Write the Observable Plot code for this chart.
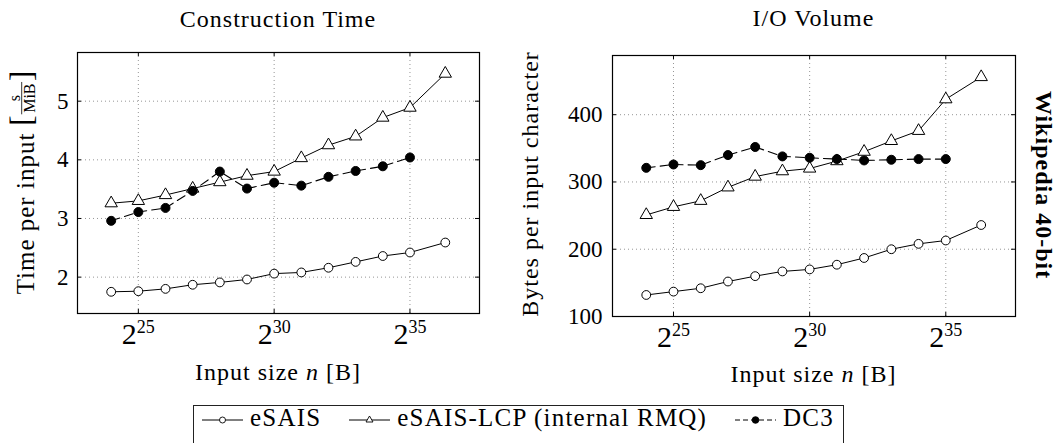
<!DOCTYPE html>
<html>
<head>
<meta charset="utf-8">
<script src="https://cdn.jsdelivr.net/npm/d3@7"></script>
<script src="https://cdn.jsdelivr.net/npm/@observablehq/plot@0.6"></script>
<style>
  html, body { margin: 0; padding: 0; background: #fff; }
  #wrap { position: relative; width: 1060px; height: 443px; overflow: hidden; background: #fff; font-family: "Liberation Serif", "Times New Roman", "DejaVu Serif", serif; }
  .panel { position: absolute; top: 0; }
  #overlay { position: absolute; left: 0; top: 0; pointer-events: none; }
  #overlay text { font-family: "Liberation Serif", "Times New Roman", "DejaVu Serif", serif; fill: #000; }
  #legend { position: absolute; left: 193px; top: 405px; height: 44px; border: 1px solid #222; padding: 0 9px 0 8px;
            display: flex; align-items: flex-start; font-family: "Liberation Serif", "Times New Roman", "DejaVu Serif", serif; font-size: 25px; line-height: 24px;
            letter-spacing: 1.2px; background: #fff; box-sizing: border-box; }
  #legend .item { display: flex; align-items: flex-start; }
  #legend .item + .item { margin-left: 28px; }
  #legend svg { margin-right: 7px; }
</style>
</head>
<body>
<div id="wrap">
  <div id="left" class="panel" style="left:0px"></div>
  <div id="right" class="panel" style="left:530px"></div>
  <svg id="overlay" width="1060" height="443"></svg>
  <div id="legend"></div>
</div>
<script>
// ---------- data ----------
const seriesNames = ["eSAIS", "eSAIS-LCP (internal RMQ)", "DC3"];
// input size as log2 of bytes
const sizeExp = [24, 25, 26, 27, 28, 29, 30, 31, 32, 33, 34, 35, 36.3];
const dc3Exp  = [24, 25, 26, 27, 28, 29, 30, 31, 32, 33, 34, 35];

// Construction time [s/MiB]
const timeESAIS = [1.75, 1.76, 1.80, 1.87, 1.91, 1.96, 2.06, 2.08, 2.16, 2.26, 2.36, 2.42, 2.59];
const timeLCP   = [3.26, 3.30, 3.40, 3.51, 3.62, 3.73, 3.80, 4.03, 4.25, 4.40, 4.72, 4.89, 5.47];
const timeDC3   = [2.96, 3.11, 3.18, 3.47, 3.80, 3.51, 3.61, 3.56, 3.71, 3.81, 3.89, 4.04];

// I/O volume [bytes per input character]
const ioESAIS = [132, 137, 142, 152, 160, 167, 170, 177, 187, 200, 208, 213, 236];
const ioLCP   = [251, 263, 272, 292, 308, 316, 320, 331, 345, 361, 376, 423, 456];
const ioDC3   = [321, 326, 325, 340, 352, 338, 336, 334, 332, 333, 334, 334];

// ticks
const xTicks = [25, 30, 35];
const timeTicks = [2, 3, 4, 5];
const ioTicks = [100, 200, 300, 400];

const titles = ["Construction Time", "I/O Volume"];
const sideLabel = "Wikipedia 40-bit";

// ---------- helpers ----------
const FONT = "'Liberation Serif', 'Times New Roman', 'DejaVu Serif', serif";
const rows = (xs, ys) => ys.map((v, i) => ({exp: xs[i], v}));
const xDomain = [22.76, 37.56];

function panel(cfg) {
  const {esais, lcp, dc3, yDomain, yTicks, width, height, mL, mR, mT, mB, yPad} = cfg;
  const pw = width - mL - mR, ph = height - mT - mB;
  const grid = {stroke: "#8a8a8a", strokeOpacity: 1, strokeDasharray: "1,3", strokeWidth: 0.9};
  const svg = Plot.plot({
    width, height,
    marginLeft: mL, marginRight: mR, marginTop: mT, marginBottom: mB,
    style: {fontFamily: FONT, fontSize: "23px", background: "transparent", color: "#000", overflow: "visible"},
    x: {domain: xDomain, ticks: xTicks},
    y: {domain: yDomain, ticks: yTicks},
    marks: [
      Plot.gridX(xTicks, grid),
      Plot.gridY(yTicks, grid),
      Plot.tickX(xTicks, {x: d => d, insetTop: ph - 4, stroke: "#000"}),
      Plot.tickX(xTicks, {x: d => d, insetBottom: ph - 4, stroke: "#000"}),
      Plot.tickY(yTicks, {y: d => d, insetRight: pw - 4, stroke: "#000"}),
      Plot.tickY(yTicks, {y: d => d, insetLeft: pw - 4, stroke: "#000"}),
      Plot.axisX(xTicks, {tickSize: 0, tickPadding: 9, fontSize: 30, label: null, tickFormat: d => String(d)}),
      Plot.axisY(yTicks, {tickSize: 0, tickPadding: yPad, fontSize: 23, label: null, tickFormat: d => String(d)}),
      Plot.line(esais, {x: "exp", y: "v", stroke: "#000", strokeWidth: 1}),
      Plot.line(lcp, {x: "exp", y: "v", stroke: "#000", strokeWidth: 1}),
      Plot.line(dc3, {x: "exp", y: "v", stroke: "#000", strokeWidth: 1.1, strokeDasharray: "9,5"}),
      Plot.dot(esais, {x: "exp", y: "v", r: 4.4, fill: "#fff", stroke: "#000", strokeWidth: 1}),
      Plot.dot(lcp, {x: "exp", y: "v", symbol: "triangle", r: 4.6, fill: "#fff", stroke: "#000", strokeWidth: 1}),
      Plot.dot(dc3, {x: "exp", y: "v", r: 4.5, fill: "#000", stroke: "#000", strokeWidth: 1}),
      Plot.frame({stroke: "#000", strokeWidth: 1.2})
    ]
  });
  // render x tick labels as powers of two: 2^n
  svg.querySelectorAll('g[aria-label="x-axis tick label"] text').forEach(t => {
    const e = t.textContent;
    t.textContent = "";
    const b = document.createElementNS("http://www.w3.org/2000/svg", "tspan");
    b.textContent = "2";
    const s = document.createElementNS("http://www.w3.org/2000/svg", "tspan");
    s.textContent = e;
    s.setAttribute("dy", "-11");
    s.setAttribute("font-size", "18");
    t.appendChild(b); t.appendChild(s);
  });
  return svg;
}

document.getElementById("left").appendChild(panel({
  esais: rows(sizeExp, timeESAIS), lcp: rows(sizeExp, timeLCP), dc3: rows(dc3Exp, timeDC3),
  yDomain: [1.38, 5.83], yTicks: timeTicks,
  width: 530, height: 360, mL: 77, mR: 51, mT: 52, mB: 47, yPad: 9
}));
document.getElementById("right").appendChild(panel({
  esais: rows(sizeExp, ioESAIS), lcp: rows(sizeExp, ioLCP), dc3: rows(dc3Exp, ioDC3),
  yDomain: [100, 488], yTicks: ioTicks,
  width: 530, height: 360, mL: 82, mR: 45, mT: 55, mB: 44, yPad: 10
}));

// ---------- overlay texts ----------
const NS = "http://www.w3.org/2000/svg";
const ov = document.getElementById("overlay");
function txt(parent, str, attrs) {
  const t = document.createElementNS(NS, "text");
  t.textContent = str;
  for (const k in attrs) t.setAttribute(k, attrs[k]);
  parent.appendChild(t);
  return t;
}
txt(ov, titles[0], {x: 278, y: 27, "text-anchor": "middle", "font-size": 24, "letter-spacing": 1});
txt(ov, titles[1], {x: 813.5, y: 26, "text-anchor": "middle", "font-size": 24, "letter-spacing": 1});

function xLabel(x, y) {
  const t = txt(ov, "", {x, y, "text-anchor": "middle", "font-size": 24, "letter-spacing": 1});
  t.setAttribute("xml:space", "preserve");
  const a = document.createElementNS(NS, "tspan"); a.textContent = "Input size ";
  const b = document.createElementNS(NS, "tspan"); b.textContent = "n"; b.setAttribute("font-style", "italic");
  const c = document.createElementNS(NS, "tspan"); c.textContent = " [B]";
  t.appendChild(a); t.appendChild(b); t.appendChild(c);
}
xLabel(278, 380);
xLabel(813.5, 382);

// left y label with fraction
{
  const g = document.createElementNS(NS, "g");
  ov.appendChild(g);
  const t1 = txt(g, "Time per input", {x: 0, y: 0, "font-size": 25, "letter-spacing": 1});
  const w1 = t1.getComputedTextLength() + 7;
  const br1 = txt(g, "[", {x: w1, y: -2, "font-size": 31});
  const w2 = br1.getComputedTextLength() + 1;
  const den = txt(g, "MiB", {x: 0, y: 0.5, "font-size": 16, "text-anchor": "middle"});
  const fw = den.getComputedTextLength() + 3;
  const cx = w1 + w2 + fw / 2;
  den.setAttribute("x", cx);
  txt(g, "s", {x: cx, y: -14.5, "font-size": 16, "text-anchor": "middle"});
  const ln = document.createElementNS(NS, "line");
  ln.setAttribute("x1", w1 + w2); ln.setAttribute("x2", w1 + w2 + fw);
  ln.setAttribute("y1", -12.3); ln.setAttribute("y2", -12.3);
  ln.setAttribute("stroke", "#000"); ln.setAttribute("stroke-width", 0.8);
  g.appendChild(ln);
  const br2 = txt(g, "]", {x: w1 + w2 + fw + 1, y: -2, "font-size": 31});
  const total = w1 + w2 + fw + 1 + br2.getComputedTextLength();
  g.setAttribute("transform", `translate(34,182.5) rotate(-90) translate(${-total / 2},0)`);
}
txt(ov, "Bytes per input character", {transform: "translate(538,184) rotate(-90)", "text-anchor": "middle", "font-size": 24, "letter-spacing": 1});
txt(ov, sideLabel, {transform: "translate(1036,185) rotate(90)", "text-anchor": "middle", "font-size": 24, "font-weight": "bold", "letter-spacing": 1});

// ---------- legend ----------
const legend = d3.select("#legend");
const legendStyles = [
  {dash: null, sym: d3.symbolCircle, fill: "#fff", size: Math.PI * 9},
  {dash: null, sym: d3.symbolTriangle2, fill: "#fff", size: Math.PI * 11},
  {dash: "5,3", sym: d3.symbolCircle, fill: "#000", size: Math.PI * 11}
];
seriesNames.forEach((name, i) => {
  const st = legendStyles[i];
  const item = legend.append("span").attr("class", "item");
  const s = item.append("svg").attr("width", 41).attr("height", 24);
  s.append("line").attr("x1", 0).attr("x2", 41).attr("y1", 14).attr("y2", 14)
    .attr("stroke", "#000").attr("stroke-width", 1).attr("stroke-dasharray", st.dash);
  s.append("path").attr("d", d3.symbol(st.sym, st.size)()).attr("transform", "translate(20.5,14)")
    .attr("fill", st.fill).attr("stroke", "#000").attr("stroke-width", 0.9);
  item.append("span").text(name);
});
</script>
</body>
</html>
